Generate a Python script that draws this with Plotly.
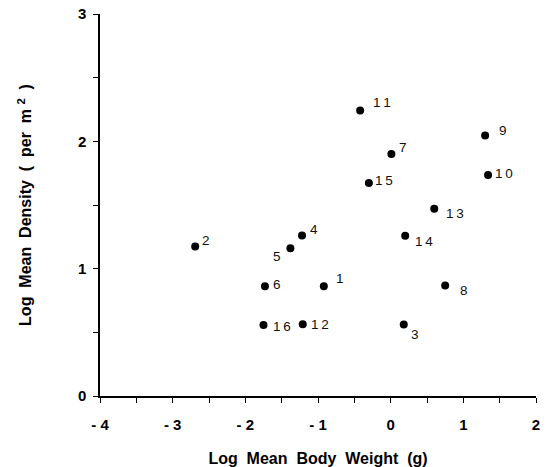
import plotly.graph_objects as go

# Data
site_ids = ["1", "2", "3", "4", "5", "6", "7", "8", "9", "10", "11", "12", "13", "14", "15", "16"]
log_body_weight = [-0.92, -2.69, 0.18, -1.22, -1.38, -1.73, 0.01, 0.75, 1.30, 1.34, -0.42, -1.21, 0.60, 0.20, -0.30, -1.75]
log_density = [0.862, 1.174, 0.561, 1.26, 1.161, 0.862, 1.90, 0.868, 2.046, 1.735, 2.243, 0.564, 1.47, 1.258, 1.672, 0.558]

x_tick_vals = [-4, -3, -2, -1, 0, 1, 2]
x_tick_text = ["- 4", "- 3", "- 2", "- 1", "0", "1", "2"]
y_tick_vals = [0, 1, 2, 3]
y_tick_text = ["0", "1", "2", "3"]

# label offsets in pixels (dx right, dy down) - layout only
label_offsets = {
    "1": (16, -8), "2": (11, -6), "3": (11, 10), "4": (12, -6), "5": (-13, 8),
    "6": (12, -2), "7": (12, -7), "8": (19, 5), "9": (18, -5), "10": (16, -2),
    "11": (22, -8), "12": (17, 0), "13": (21, 5), "14": (19, 6), "15": (15, -3),
    "16": (18, 2),
}

FONT = "Liberation Sans, Arial, sans-serif"

fig = go.Figure()
fig.add_trace(go.Scatter(
    x=log_body_weight, y=log_density, mode="markers",
    marker=dict(size=8, color="black"), showlegend=False, hoverinfo="skip",
))

annotations = []
for sid, xv, yv in zip(site_ids, log_body_weight, log_density):
    dx, dy = label_offsets[sid]
    annotations.append(dict(
        x=xv, y=yv, xref="x", yref="y", text="\u2009".join(sid),
        showarrow=False, xshift=dx, yshift=-dy, xanchor="center", yanchor="middle",
        font=dict(family=FONT, size=13.5, color="#111"),
    ))

nb = "\u00a0"
minor_ticks = dict(ticks="outside", dtick=0.5, ticklen=5, tickwidth=1.2, tickcolor="black", showgrid=False)
fig.update_layout(
    width=548, height=467,
    margin=dict(l=100, r=12, t=14, b=71),
    paper_bgcolor="white", plot_bgcolor="white",
    annotations=annotations,
    font=dict(family=FONT, color="black"),
    xaxis=dict(
        range=[-4, 2], tickvals=x_tick_vals, ticktext=x_tick_text, automargin=False,
        showgrid=False, zeroline=False, showline=True, linecolor="black", linewidth=1.5,
        ticks="outside", ticklen=5, tickwidth=1.2, tickcolor="black",
        minor=minor_ticks,
        ticklabelstandoff=9,
        tickfont=dict(size=15, family=FONT, weight="bold"),
        title=dict(text=f"Log{nb}{nb}Mean{nb}{nb}Body{nb}{nb}Weight{nb}{nb}(g)",
                   font=dict(size=16, weight="bold"), standoff=21),
    ),
    yaxis=dict(
        range=[0, 3], tickvals=y_tick_vals, ticktext=y_tick_text, automargin=False,
        showgrid=False, zeroline=False, showline=True, linecolor="black", linewidth=1.5,
        ticks="outside", ticklen=5, tickwidth=1.2, tickcolor="black",
        minor=minor_ticks,
        ticklabelstandoff=4,
        tickfont=dict(size=15, family=FONT, weight="bold"),
        title=dict(text=f"Log{nb}{nb}Mean{nb}{nb}Density{nb}{nb}({nb}{nb}per{nb}{nb}m{nb}<sup>2</sup>{nb}{nb})",
                   font=dict(size=16, weight="bold"), standoff=42),
    ),
)

fig.write_html("out.html")
